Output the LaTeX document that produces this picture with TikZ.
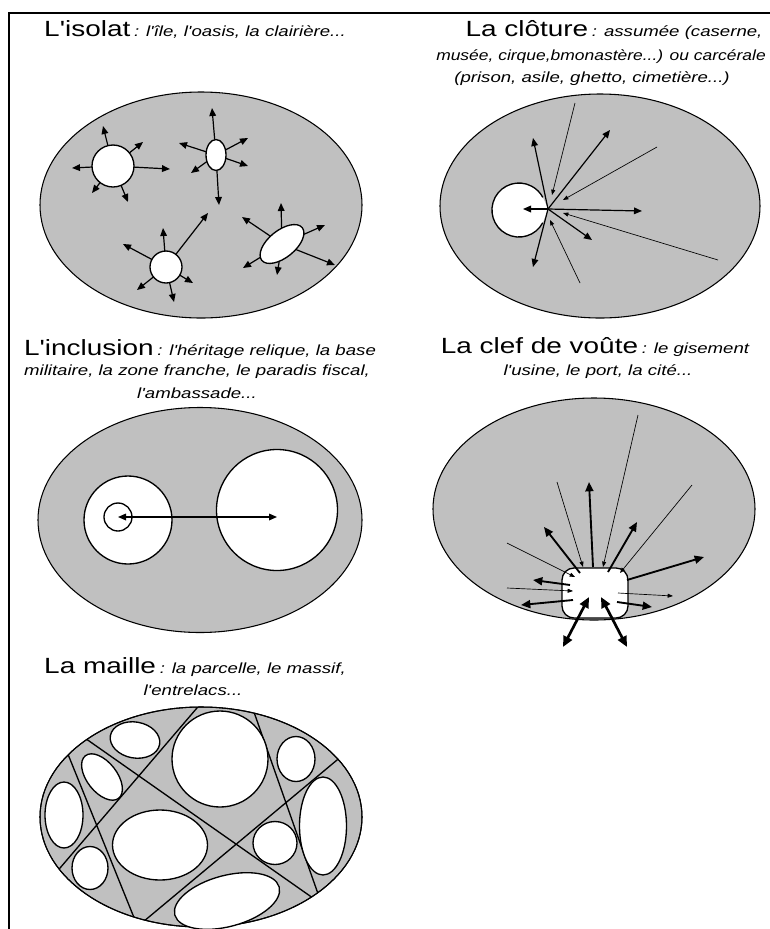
\documentclass[tikz,border=0pt]{standalone}
\usepackage{graphicx}
\usepackage{fontspec}
\newfontfamily\figfont{Liberation Sans}
\usetikzlibrary{arrows.meta, shapes.geometric, calc}
\definecolor{zonegray}{RGB}{192,192,192}
\newlength{\pxu}\setlength{\pxu}{0.75pt}
\newcommand{\Titre}[1]{\scalebox{1.27}[1]{\fontsize{16.5}{19}\selectfont #1}}
\newcommand{\Note}[2][1.27]{\scalebox{#1}[1]{\fontsize{11}{13}\selectfont\itshape #2}}

\tikzset{
  zone/.style={ellipse, draw, line width=0.8pt, fill=zonegray, inner sep=0pt, outer sep=0pt},
  isle/.style={ellipse, draw, line width=1pt, fill=white, inner sep=0pt, outer sep=0pt},
  outarr/.style={line width=0.9pt, -{Triangle[length=6pt,width=5pt]}},
  inarr/.style={line width=0.5pt, -{Triangle[length=4pt,width=3pt]}},
  boldarr/.style={line width=1.4pt, -{Triangle[length=7pt,width=6pt]}},
  bigarr/.style={line width=2pt, {Triangle[length=8pt,width=7pt]}-{Triangle[length=8pt,width=7pt]}},
  dblarr/.style={line width=0.9pt, {Triangle[length=6pt,width=5pt]}-{Triangle[length=6pt,width=5pt]}},
  titre/.style={anchor=base, inner sep=0pt, font=\figfont},
}

\begin{document}
\begin{tikzpicture}[x=0.75pt, y=-0.75pt]
  \useasboundingbox (0,0) rectangle (770,929);
  \draw[line width=1.1pt] (9,929) -- (9,13) -- (770,13);

  % l'isolat
  \node[titre] (tIsolat) at (195,36) {\Titre{L'isolat} \Note{: l'île, l'oasis, la clairière...}};
  \node[zone, minimum width=322\pxu, minimum height=226\pxu] (isolat) at (201,205) {};
  \node[isle, circle, minimum size=42\pxu] (ileA) at (113,166) {};
  \node[isle, minimum width=20\pxu, minimum height=31\pxu] (ileB) at (216,155) {};
  \node[isle, circle, minimum size=32\pxu] (ileC) at (166,267) {};
  \node[isle, minimum width=52\pxu, minimum height=27\pxu, rotate=39] (ileD) at (282,244) {};
  \foreach \x/\y in {72/168, 170/169, 103/126, 143/142, 92/193, 128/202}
    \draw[outarr] (ileA) -- (\x,\y);
  \foreach \x/\y in {212/108, 219/205, 179/143, 191/173, 248/138, 248/166}
    \draw[outarr] (ileB) -- (\x,\y);
  \foreach \x/\y in {208/213, 163/228, 123/244, 137/290, 174/302, 193/283}
    \draw[outarr] (ileC) -- (\x,\y);
  \foreach \x/\y in {281/203, 242/217, 325/225, 243/268, 277/275, 335/265}
    \draw[outarr] (ileD) -- (\x,\y);

  % la cloture
  \node[titre] (tCloture1) at (614,36) {\Titre{La clôture} \Note{: assumée (caserne,}};
  \node[titre] (tCloture2) at (601,60) {\Note[1.19]{musée, cirque,bmonastère...) ou carcérale}};
  \node[titre] (tCloture3) at (592,82) {\Note{(prison, asile, ghetto, cimetière...)}};
  \node[zone, minimum width=320\pxu, minimum height=224\pxu] (cloture) at (600,206) {};
  \coordinate (hub) at (548,209);
  \fill[white] (hub) -- (542.8,222.7) arc[start angle=28, end angle=332, radius=27] -- cycle;
  \draw[line width=1pt] (542.8,222.7) arc[start angle=28, end angle=332, radius=27];
  \foreach \x/\y in {523/209, 642/211, 533/138, 610/130, 592/240, 533/267}
    \draw[outarr] (hub) -- (\x,\y);
  \foreach \x/\y/\u/\v in {575/103/552/195, 657/147/563/200, 718/260/563/213, 580/283/550/220}
    \draw[inarr] (\x,\y) -- (\u,\v);

  % l'inclusion
  \node[titre] (tInclusion1) at (200,355) {\Titre{L'inclusion} \Note{: l'héritage relique, la base}};
  \node[titre] (tInclusion2) at (197,375) {\Note{militaire, la zone franche, le paradis fiscal,}};
  \node[titre] (tInclusion3) at (197,398) {\Note{l'ambassade...}};
  \node[zone, minimum width=324\pxu, minimum height=225\pxu] (inclusion) at (200,520) {};
  \node[isle, circle, minimum size=88\pxu] (relique) at (128,520) {};
  \node[isle, circle, minimum size=28\pxu] (noyau) at (118,517) {};
  \node[isle, circle, minimum size=121\pxu] (enclave) at (277,510) {};
  \draw[dblarr] (noyau.center) -- (noyau.center -| enclave.center);

  % la clef de voute
  \node[titre] (tVoute1) at (595,353) {\Titre{La clef de voûte} \Note{: le gisement}};
  \node[titre] (tVoute2) at (598,375) {\Note{l'usine, le port, la cité...}};
  \node[zone, minimum width=322\pxu, minimum height=222\pxu] (voute) at (594,509) {};
  \node[draw, fill=white, line width=1pt, rounded corners=12\pxu, minimum width=66\pxu,
        minimum height=50\pxu, inner sep=0pt] (clef) at (595,593) {};
  \foreach \x/\y/\u/\v in {638/415/603/567, 557/482/583/567, 692/485/620/573,
                           507/543/575/577, 507/588/573/591}
    \draw[inarr] (\x,\y) -- (\u,\v);
  \draw[inarr] (618,593) -- (673,596);
  \foreach \x/\y/\u/\v in {593/567/589/482, 580/573/544/527, 608/572/637/522, 627/580/704/557,
                           570/585/533/580, 573/600/521/605, 617/602/652/607}
    \draw[boldarr] (\x,\y) -- (\u,\v);
  \draw[bigarr] (589,597) -- (563,647);
  \draw[bigarr] (601,597) -- (627,647);

  % la maille
  \node[titre] (tMaille1) at (195,673) {\Titre{La maille} \Note{: la parcelle, le massif,}};
  \node[titre] (tMaille2) at (193,695) {\Note{l'entrelacs...}};
  \node[zone, minimum width=322\pxu, minimum height=220\pxu] (maille) at (201,817) {};
  \begin{scope}
    \clip (201,817) ellipse [x radius=161, y radius=110];
    \draw[line width=1pt] (18.7,691.6) -- (381.3,946)
                          (238.2,659.8) -- (16.8,918.5)
                          (48.3,705.5) -- (155,969.5)
                          (236.5,662.5) -- (335.2,942.5)
                          (392.5,713.7) -- (85.8,969.7);
  \end{scope}
  \draw[line width=0.8pt] (maille.center) ellipse [x radius=161, y radius=110];
  \node[isle, minimum width=50\pxu, minimum height=36\pxu, rotate=-10] (maille1) at (135,740) {};
  \node[isle, minimum width=54\pxu, minimum height=30\pxu, rotate=-52] (maille2) at (102,777) {};
  \node[isle, minimum width=38\pxu, minimum height=66\pxu] (maille3) at (64,815) {};
  \node[isle, minimum width=36\pxu, minimum height=43\pxu] (maille4) at (90,868) {};
  \node[isle, circle, minimum size=96\pxu] (maille5) at (220,759) {};
  \node[isle, minimum width=95\pxu, minimum height=70\pxu] (maille6) at (160,845) {};
  \node[isle, minimum width=38\pxu, minimum height=45\pxu] (maille7) at (296,759) {};
  \node[isle, minimum width=47\pxu, minimum height=98\pxu] (maille8) at (323,826) {};
  \node[isle, minimum width=44\pxu, minimum height=43\pxu] (maille9) at (275,843) {};
  \node[isle, minimum width=108\pxu, minimum height=51\pxu, rotate=15] (maille10) at (227,901) {};
\end{tikzpicture}
\end{document}
